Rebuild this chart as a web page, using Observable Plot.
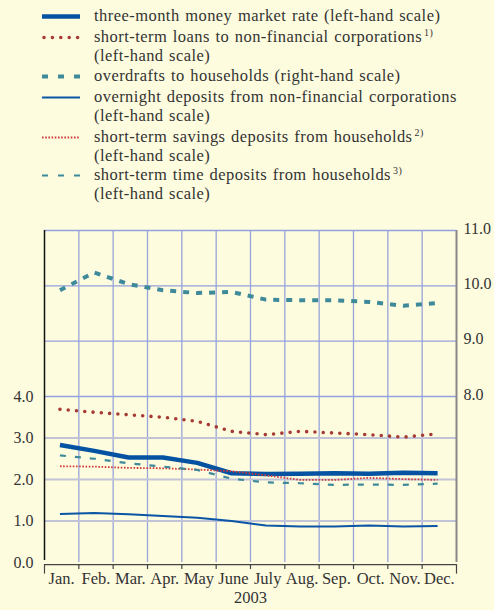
<!DOCTYPE html>
<html>
<head>
<meta charset="utf-8">
<script src="https://cdn.jsdelivr.net/npm/d3@7"></script>
<script src="https://cdn.jsdelivr.net/npm/@observablehq/plot@0.6"></script>
<style>
  html, body { margin: 0; padding: 0; background: #fefcdf; }
  body { width: 494px; height: 610px; overflow: hidden; color: #333; }
  #legend { position: relative; height: 212px; }
  .item { position: absolute; left: 0; width: 494px; }
  .item svg { position: absolute; left: 42px; }
  .item .txt { position: absolute; left: 94px; font-family: 'Liberation Serif', 'Times New Roman', serif; font-size: 16.5px; line-height: 18.5px; letter-spacing: 0.45px; word-spacing: 1px; white-space: nowrap; color: #333; }
  .txt sup { font-size: 10px; vertical-align: 6px; line-height: 0; margin-left: 2px; }
</style>
</head>
<body>
<div id="legend"></div>
<div id="chart"></div>
<script>
const months = ["Jan.","Feb.","Mar.","Apr.","May","June","July","Aug.","Sep.","Oct.","Nov.","Dec."];
const yearLabel = "2003";
const moneyMarket  = [2.83, 2.69, 2.53, 2.53, 2.40, 2.15, 2.13, 2.14, 2.15, 2.14, 2.16, 2.15];
const loansNFC     = [3.69, 3.62, 3.56, 3.50, 3.40, 3.16, 3.08, 3.16, 3.12, 3.08, 3.02, 3.10];
const overdraftsHH = [9.92, 10.24, 10.03, 9.92, 9.87, 9.89, 9.75, 9.74, 9.74, 9.71, 9.64, 9.69]; // right-hand scale
const overnightNFC = [1.17, 1.19, 1.16, 1.12, 1.08, 1.00, 0.89, 0.87, 0.87, 0.89, 0.87, 0.88];
const savingsHH    = [2.32, 2.31, 2.28, 2.27, 2.24, 2.20, 2.10, 1.99, 1.99, 2.04, 2.01, 1.99];
const timeHH       = [2.58, 2.50, 2.39, 2.31, 2.23, 2.02, 1.93, 1.91, 1.87, 1.88, 1.87, 1.90];
const leftTicks = [0, 1, 2, 3, 4];
const rightTicks = [8, 9, 10, 11];

const legendItems = [
  {name: "three-month money market rate (left-hand scale)", sup: "", second: ""},
  {name: "short-term loans to non-financial corporations", sup: "1)", second: "(left-hand scale)"},
  {name: "overdrafts to households (right-hand scale)", sup: "", second: ""},
  {name: "overnight deposits from non-financial corporations", sup: "", second: "(left-hand scale)"},
  {name: "short-term savings deposits from households", sup: "2)", second: "(left-hand scale)"},
  {name: "short-term time deposits from households", sup: "3)", second: "(left-hand scale)"}
];

const styles = [
  {stroke: "#0453a3", width: 4.5, dash: null, cap: "butt"},
  {stroke: "#a83a36", width: 3.6, dash: "0 8.3", cap: "round"},
  {stroke: "#3e8a9b", width: 4, dash: "6 7", cap: "butt"},
  {stroke: "#0a55a5", width: 2, dash: null, cap: "butt"},
  {stroke: "#cc3a3a", width: 1.8, dash: "1.6 1.6", cap: "butt"},
  {stroke: "#3e8a9b", width: 2.2, dash: "6 9", cap: "butt"}
];
const legendDash = [null, "0 8.4", "6 10", null, "1.6 1.6", "6 10"];
const seriesValues = [moneyMarket, loansNFC, overdraftsHH, overnightNFC, savingsHH, timeHH];

// legend (HTML, above the SVG)
const legendTops = [7, 28, 67, 88, 128, 166];
const legend = document.getElementById("legend");
legendItems.forEach((it, k) => {
  const s = styles[k];
  const div = document.createElement("div");
  div.className = "item";
  div.style.top = legendTops[k] + "px";
  const dash = legendDash[k] ? `stroke-dasharray="${legendDash[k]}"` : "";
  const x1 = k === 1 ? 2 : 0;
  div.innerHTML = `<svg width="40" height="18.5"><line x1="${x1}" x2="38" y1="9.5" y2="9.5" stroke="${s.stroke}" stroke-width="${s.width}" stroke-linecap="${s.cap}" ${dash}/></svg>` +
    `<div class="txt">${it.name}${it.sup ? `<sup>${it.sup}</sup>` : ""}${it.second ? "<br>" + it.second : ""}</div>`;
  legend.appendChild(div);
});

// right-hand scale mapped onto left-hand scale: 8 -> 4, 11 -> 8
const toLeft = r => 4 + (r - 8) / 0.75;
const xPos = i => i + 0.45;

const marks = [];
// gridlines
marks.push(Plot.ruleX(d3.range(1, 12), {y1: 0, y2: 8, stroke: "#98a5dc", strokeWidth: 1.3}));
marks.push(Plot.ruleY([1, 2, 3], {x1: 0, x2: 12, stroke: "#c0c4d6", strokeWidth: 2}));
marks.push(Plot.ruleY(rightTicks.map(toLeft), {x1: 0, x2: 12, stroke: "#93a0de", strokeWidth: 1.3}));
// axis lines
marks.push(Plot.ruleX([0], {y1: 0.05, y2: 8, stroke: "#111", strokeWidth: 1.5}));
marks.push(Plot.ruleX([12], {y1: 0, y2: 8, stroke: "#888", strokeWidth: 2}));
// bottom axis: baseline and ticks
marks.push(Plot.ruleY([-0.05], {x1: 0, x2: 12, stroke: "#444", strokeWidth: 1.2}));
marks.push(Plot.ruleX(d3.range(0, 13), {y1: -0.05, y2: d => (d === 0 || d === 12) ? -0.28 : -0.17, stroke: "#444", strokeWidth: 1.2}));
// series
seriesValues.forEach((vals, k) => {
  const s = styles[k];
  const data = vals.map((v, i) => ({x: xPos(i), y: k === 2 ? toLeft(v) : v}));
  marks.push(Plot.line(data, {x: "x", y: "y", stroke: s.stroke, strokeWidth: s.width,
    strokeDasharray: s.dash || undefined, strokeLinecap: s.cap, strokeLinejoin: "round"}));
});
// axes
marks.push(Plot.axisY({anchor: "left", ticks: leftTicks, tickFormat: d => d.toFixed(1), tickSize: 0, tickPadding: 11, label: null, fill: "#333"}));
marks.push(Plot.axisY({anchor: "right", ticks: rightTicks.map(toLeft), tickFormat: d => (8 + (d - 4) * 0.75).toFixed(1), tickSize: 0, tickPadding: 7, dy: -2, label: null, fill: "#333"}));
marks.push(Plot.text(months, {x: (d, i) => i + 0.5, frameAnchor: "bottom", dy: 21, fill: "#333", fontSize: 16.5, style: "letter-spacing:0.5px"}));
marks.push(Plot.text([yearLabel], {x: 6, frameAnchor: "bottom", dy: 40, fill: "#333", fontSize: 16.5}));

const chart = Plot.plot({
  width: 494,
  height: 398,
  marginTop: 18,
  marginBottom: 48,
  marginLeft: 44,
  marginRight: 38,
  x: {domain: [0, 12], axis: null},
  y: {domain: [0, 8]},
  style: {background: "transparent", fontFamily: "'Liberation Serif', serif", fontSize: "16px", overflow: "visible"},
  marks
});
document.getElementById("chart").appendChild(chart);
</script>
</body>
</html>
